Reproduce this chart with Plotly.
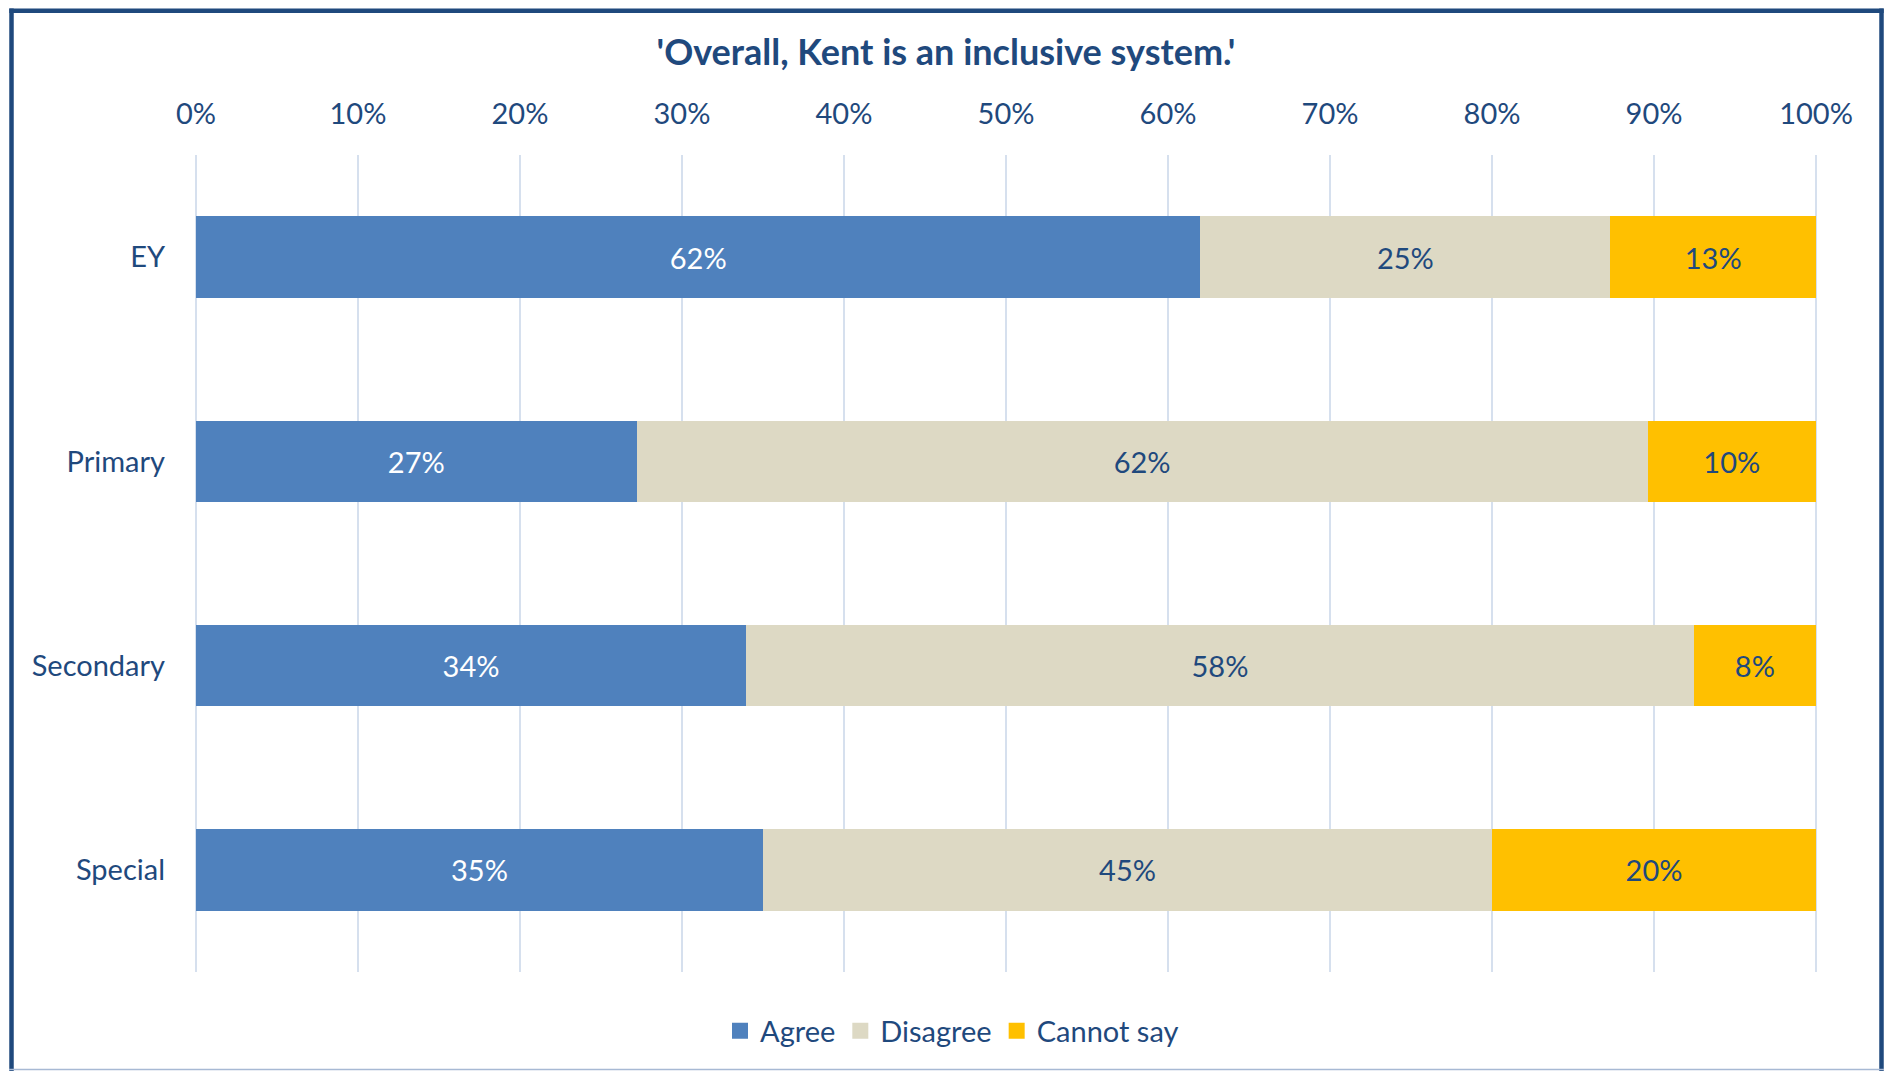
import plotly.graph_objects as go

categories = ["EY", "Primary", "Secondary", "Special"]
series_names = ["Agree", "Disagree", "Cannot say"]
agree = [62.0, 27.2, 33.96, 35.0]
disagree = [25.3, 62.4, 58.49, 45.0]
cannot_say = [12.7, 10.4, 7.55, 20.0]
x_ticks = [0, 10, 20, 30, 40, 50, 60, 70, 80, 90, 100]
x_tick_labels = ["0%", "10%", "20%", "30%", "40%", "50%", "60%", "70%", "80%", "90%", "100%"]
title_text = "'Overall, Kent is an inclusive system.'"

colors = ["#4F81BD", "#DDD9C4", "#FFC000"]
text_colors = ["#FFFFFF", "#1F497D", "#1F497D"]
NAVY = "#1F497D"
GRID = "#D6E0EE"
FONT = "Lato"

# page body has an 8px margin; figure coordinates are offset by it
OFF = 8
W, H = 1895 - OFF, 1071 - OFF
L, T = 194 - OFF, 155 - OFF
R = W - (1818 - OFF)
B = H - (972 - OFF)
PW, PH = W - L - R, H - T - B


def px_x(x):
    return (x - OFF - L) / PW


def px_y(y):
    return (H - B - (y - OFF)) / PH


fig = go.Figure()
for name, vals, c, tc in zip(series_names, [agree, disagree, cannot_say], colors, text_colors):
    fig.add_trace(go.Bar(
        y=categories, x=vals, name=name, orientation="h",
        marker=dict(color=c, line=dict(width=0)),
        texttemplate="%{x:.0f}%", textposition="inside", insidetextanchor="middle",
        textangle=0, constraintext="none",
        textfont=dict(color=tc, size=29, family=FONT),
        showlegend=False, hoverinfo="skip",
    ))
    fig.add_trace(go.Scatter(
        x=[None], y=[None], mode="markers", name=name,
        marker=dict(symbol="square", size=16, color=c),
        showlegend=True, hoverinfo="skip",
    ))

fig.update_layout(
    width=W, height=H,
    margin=dict(l=L, r=R, t=T, b=B, autoexpand=False),
    barmode="stack", bargap=0.6,
    plot_bgcolor="white", paper_bgcolor="white",
    font=dict(family=FONT, color=NAVY, size=29),
    title=dict(text=title_text, x=px_x(946), xref="paper", xanchor="center",
               y=1 - (52 - OFF) / H, yref="container", yanchor="middle",
               font=dict(size=36, weight="bold", color=NAVY, family=FONT)),
    legend=dict(orientation="h", x=px_x(952), xanchor="center",
                y=px_y(1031), yanchor="middle", traceorder="normal",
                font=dict(size=29, color=NAVY, family=FONT),
                itemwidth=30, tracegroupgap=0, bgcolor="rgba(0,0,0,0)"),
    xaxis=dict(side="top", range=[-0.12, 100.12], tickvals=x_ticks, ticktext=x_tick_labels,
               showgrid=True, gridcolor=GRID, gridwidth=1.5,
               zeroline=True, zerolinecolor=GRID, zerolinewidth=1.5,
               showline=False, ticks="",
               ticklabelstandoff=24,
               tickfont=dict(size=29, color=NAVY, family=FONT), fixedrange=True),
    yaxis=dict(categoryorder="array", categoryarray=categories, autorange="reversed",
               showgrid=False, zeroline=False, showline=False, ticks="",
               ticklabelstandoff=28,
               tickfont=dict(size=29, color=NAVY, family=FONT), fixedrange=True),
    shapes=[
        dict(type="line", xref="paper", yref="paper", x0=px_x(11.5), x1=px_x(11.5),
             y0=px_y(8.5), y1=px_y(1075), line=dict(color=NAVY, width=4.5)),
        dict(type="line", xref="paper", yref="paper", x0=px_x(9.3), x1=px_x(1883.7),
             y0=px_y(10.7), y1=px_y(10.7), line=dict(color=NAVY, width=4.5)),
        dict(type="line", xref="paper", yref="paper", x0=px_x(1881.5), x1=px_x(1881.5),
             y0=px_y(8.5), y1=px_y(1075), line=dict(color=NAVY, width=4.5)),
        dict(type="line", xref="paper", yref="paper", x0=px_x(9), x1=px_x(1884),
             y0=px_y(1069.5), y1=px_y(1069.5), line=dict(color="#A7B9D4", width=1.5)),
    ],
)

fig.write_html("out.html")
